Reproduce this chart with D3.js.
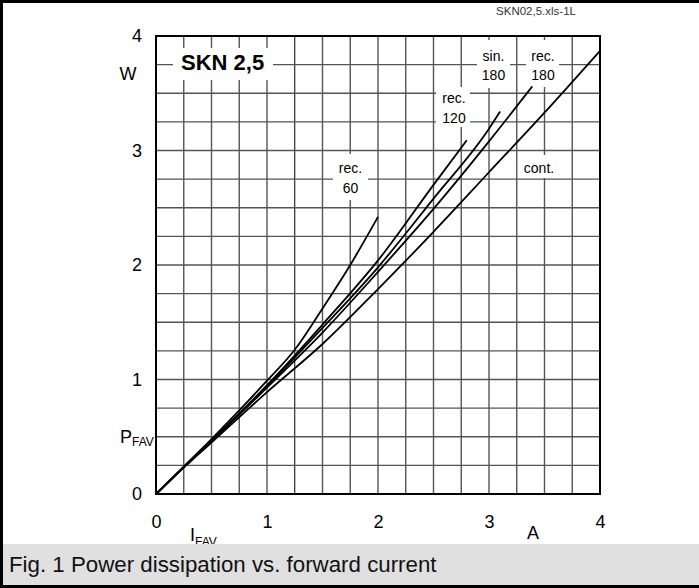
<!DOCTYPE html>
<html>
<head>
<meta charset="utf-8">
<script src="https://cdn.jsdelivr.net/npm/d3@7"></script>
<style>
  body { margin: 0; background: #fff; }
  svg text { font-family: "Liberation Sans", Arial, sans-serif; }
</style>
</head>
<body>
<div id="chart"></div>
<script>
// current steps (A) used for the readings
var currentRec60 = [0, 0.25, 0.5, 0.75, 1.0, 1.25, 1.5, 1.75, 2.0];
var powerRec60   = [0, 0.24, 0.48, 0.73, 0.99, 1.26, 1.62, 2.0, 2.42];

var currentRec120 = [0, 0.25, 0.5, 1.0, 1.5, 2.0, 2.5, 2.8];
var powerRec120   = [0, 0.235, 0.465, 0.95, 1.48, 2.04, 2.70, 3.09];

var currentSin180 = [0, 0.25, 0.5, 1.0, 1.5, 2.0, 2.5, 3.0, 3.1];
var powerSin180   = [0, 0.235, 0.465, 0.94, 1.45, 1.98, 2.58, 3.19, 3.34];

var currentRec180 = [0, 0.25, 0.5, 1.0, 1.5, 2.0, 2.5, 3.0, 3.39];
var powerRec180   = [0, 0.235, 0.46, 0.93, 1.41, 1.94, 2.49, 3.08, 3.56];

var currentCont = [0, 0.25, 0.5, 1.0, 1.5, 2.0, 2.5, 3.0, 3.5, 4.0];
var powerCont   = [0, 0.23, 0.45, 0.89, 1.31, 1.79, 2.29, 2.81, 3.33, 3.87];

var xTicks = [0, 1, 2, 3, 4];
var yTicks = [0, 1, 2, 3, 4];

var width = 699, height = 588;
var margin = {top: 36, left: 156, right: 99, bottom: 94};

var svg = d3.select("#chart")
  .append("svg")
  .attr("width", width)
  .attr("height", height);

var xScale = d3.scaleLinear().domain([0, 4]).range([margin.left, width - margin.right]);
var yScale = d3.scaleLinear().domain([0, 4]).range([height - margin.bottom, margin.top]);

// grid every 0.25
var gridSteps = d3.range(0, 4.001, 0.25);

svg.append("g")
  .selectAll("line")
  .data(gridSteps)
  .enter()
  .append("line")
  .attr("x1", function(d) { return xScale(d); })
  .attr("x2", function(d) { return xScale(d); })
  .attr("y1", yScale(0))
  .attr("y2", yScale(4))
  .attr("stroke", function(d) { return d === 1.25 ? "#000" : "#555"; })
  .attr("stroke-width", function(d) { return d === 1.25 ? 1 : 1.4; });

svg.append("g")
  .selectAll("line")
  .data(gridSteps)
  .enter()
  .append("line")
  .attr("x1", xScale(0))
  .attr("x2", xScale(4))
  .attr("y1", function(d) { return yScale(d); })
  .attr("y2", function(d) { return yScale(d); })
  .attr("stroke", "#555")
  .attr("stroke-width", 1.4);

// white boxes behind the labels
var boxes = [
  {x: 173, y: 48, w: 100, h: 32},
  {x: 333, y: 154, w: 35, h: 46},
  {x: 436, y: 87, w: 34, h: 40},
  {x: 477, y: 40, w: 33, h: 48},
  {x: 526, y: 40, w: 33, h: 47},
  {x: 521, y: 155, w: 37, h: 23}
];
svg.append("g")
  .selectAll("rect")
  .data(boxes)
  .enter()
  .append("rect")
  .attr("x", function(d) { return d.x; })
  .attr("y", function(d) { return d.y; })
  .attr("width", function(d) { return d.w; })
  .attr("height", function(d) { return d.h; })
  .attr("fill", "#fff");

// plot frame
svg.append("rect")
  .attr("x", xScale(0))
  .attr("y", yScale(4))
  .attr("width", xScale(4) - xScale(0))
  .attr("height", yScale(0) - yScale(4))
  .attr("fill", "none")
  .attr("stroke", "#000")
  .attr("stroke-width", 2);

// curves
var series = [
  {i: currentRec60, p: powerRec60},
  {i: currentRec120, p: powerRec120},
  {i: currentSin180, p: powerSin180},
  {i: currentRec180, p: powerRec180},
  {i: currentCont, p: powerCont}
];

var line = d3.line()
  .x(function(d) { return xScale(d[0]); })
  .y(function(d) { return yScale(d[1]); })
  .curve(d3.curveMonotoneX);

svg.append("g")
  .selectAll("path")
  .data(series)
  .enter()
  .append("path")
  .attr("d", function(s) { return line(s.i.map(function(v, k) { return [v, s.p[k]]; })); })
  .attr("fill", "none")
  .attr("stroke", "#000")
  .attr("stroke-width", 1.8);

// axes (labels only)
var xAxis = svg.append("g")
  .attr("transform", "translate(0," + yScale(0) + ")")
  .call(d3.axisBottom(xScale).tickValues(xTicks).tickSize(0).tickPadding(21).tickFormat(d3.format("d")));
xAxis.select(".domain").remove();
xAxis.selectAll("text").attr("font-size", 18).attr("fill", "#000")
  .style("font-family", "Liberation Sans, Arial, sans-serif");

var yAxis = svg.append("g")
  .attr("transform", "translate(" + xScale(0) + ",0)")
  .call(d3.axisLeft(yScale).tickValues(yTicks).tickSize(0).tickPadding(14).tickFormat(d3.format("d")));
yAxis.select(".domain").remove();
yAxis.selectAll("text").attr("font-size", 18).attr("fill", "#000")
  .style("font-family", "Liberation Sans, Arial, sans-serif");

// unit labels
svg.append("text").attr("x", 128).attr("y", 80).attr("font-size", 18).attr("text-anchor", "middle").text("W");
svg.append("text").attr("x", 533).attr("y", 539).attr("font-size", 18).attr("text-anchor", "middle").text("A");

var pfav = svg.append("text").attr("x", 120).attr("y", 443).attr("font-size", 18);
pfav.append("tspan").text("P");
pfav.append("tspan").attr("font-size", 12).attr("dy", 3).text("FAV");

var ifav = svg.append("text").attr("x", 190).attr("y", 541).attr("font-size", 18);
ifav.append("tspan").text("I");
ifav.append("tspan").attr("font-size", 12).attr("dy", 5).text("FAV");

// curve labels
var labels = [
  {t1: "rec.", t2: "60", x: 350.5, y: 173},
  {t1: "rec.", t2: "120", x: 454, y: 103},
  {t1: "sin.", t2: "180", x: 493.5, y: 60.5},
  {t1: "rec.", t2: "180", x: 543, y: 60.5}
];
labels.forEach(function(l) {
  svg.append("text").attr("x", l.x).attr("y", l.y).attr("font-size", 14)
    .attr("text-anchor", "middle").text(l.t1);
  svg.append("text").attr("x", l.x).attr("y", l.y + 19.5).attr("font-size", 14)
    .attr("text-anchor", "middle").text(l.t2);
});
svg.append("text").attr("x", 539).attr("y", 172.5).attr("font-size", 14)
  .attr("text-anchor", "middle").text("cont.");

svg.append("text").attr("x", 181).attr("y", 69.5).attr("font-size", 22)
  .attr("font-weight", "bold").text("SKN 2,5");

svg.append("text").attr("x", 536).attr("y", 15).attr("font-size", 11.5)
  .attr("fill", "#333").attr("text-anchor", "middle").text("SKN02,5.xls-1L");

// caption bar
svg.append("rect").attr("x", 0).attr("y", 544).attr("width", width).attr("height", 41).attr("fill", "#e0e0e0");
svg.append("text").attr("x", 9).attr("y", 572).attr("font-size", 22.3).attr("fill", "#111")
  .text("Fig. 1 Power dissipation vs. forward current");

// outer border
svg.append("rect").attr("x", 0).attr("y", 0).attr("width", 3).attr("height", height).attr("fill", "#000");
svg.append("rect").attr("x", 0).attr("y", 0).attr("width", width).attr("height", 3).attr("fill", "#000");
svg.append("rect").attr("x", 0).attr("y", 585).attr("width", width).attr("height", 3).attr("fill", "#000");
</script>
</body>
</html>
